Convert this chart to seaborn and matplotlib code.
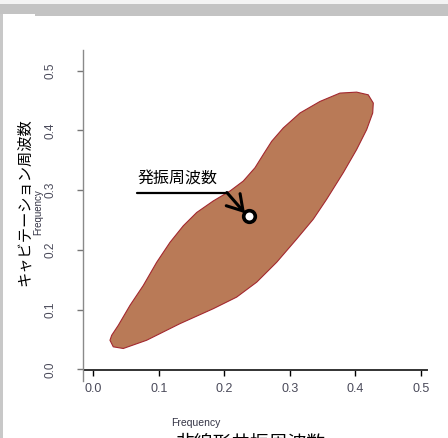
# frequency map: cavitation vs nonlinear resonance frequency
import matplotlib
matplotlib.use("Agg")
import matplotlib.pyplot as plt
from matplotlib.patches import Rectangle
import seaborn as sns

sns.set_theme(style="white")
plt.rcParams['font.family'] = ['Noto Sans CJK JP', 'DejaVu Sans']

# outline of the region (x = nonlinear resonance freq, y = cavitation freq)
region_x = [0.0255, 0.0305, 0.0458, 0.0815, 0.1324, 0.1832, 0.2189, 0.2495, 0.2800,
            0.3105, 0.3359, 0.3563, 0.3817, 0.4021, 0.4174, 0.4266, 0.4275, 0.4198,
            0.4021, 0.3766, 0.3461, 0.3156, 0.2901, 0.2724, 0.2595, 0.2469, 0.2290,
            0.2087, 0.1832, 0.1579, 0.1374, 0.1171, 0.0968, 0.0763, 0.0560, 0.0382,
            0.0281]
region_y = [0.0488, 0.0378, 0.0350, 0.0488, 0.0766, 0.1016, 0.1210, 0.1460, 0.1793,
            0.2181, 0.2514, 0.2847, 0.3292, 0.3680, 0.4013, 0.4291, 0.4457, 0.4595,
            0.4640, 0.4624, 0.4484, 0.4291, 0.4041, 0.3818, 0.3596, 0.3375, 0.3152,
            0.2985, 0.2819, 0.2626, 0.2403, 0.2126, 0.1793, 0.1404, 0.1071, 0.0738,
            0.0571]

# oscillation frequency point
osc_x = [0.238]
osc_y = [0.257]
osc_label = "発振周波数"

ticks = [0.0, 0.1, 0.2, 0.3, 0.4, 0.5]
tick_labels = ["0.0", "0.1", "0.2", "0.3", "0.4", "0.5"]

W, H = 448, 438
fig = plt.figure(figsize=(W / 100, H / 100), dpi=100)
fig.patch.set_facecolor("white")

ax = fig.add_axes([83 / W, (H - 370) / H, (427 - 83) / W, (370 - 50) / H])
ax.set_facecolor("white")

ax.fill(region_x, region_y, facecolor="#b97a57", edgecolor="#a3282f", lw=0.8)
sns.scatterplot(x=osc_x, y=osc_y, s=70, color="white", edgecolor="black",
                linewidth=2.6, zorder=5, ax=ax)

# label with underline and arrow
ax.text(0.068, 0.318, osc_label, fontsize=11.5, ha="left", va="center", color="black")
ax.plot([0.066, 0.204], [0.296, 0.296], color="black", lw=1.6)
ax.annotate("", xy=(0.2316, 0.2614), xytext=(0.204, 0.296),
            arrowprops=dict(arrowstyle="->,head_length=0.9,head_width=0.55",
                            color="black", lw=2.2, shrinkA=0, shrinkB=0))

ax.set_xlim(-0.0157, 0.5095)
ax.set_ylim(-0.001, 0.5345)
ax.set_xticks(ticks)
ax.set_xticklabels(tick_labels, family=["Liberation Sans", "DejaVu Sans"],
                   fontsize=9, color="#4a4a5a")
ax.set_yticks(ticks)
ax.set_yticklabels(tick_labels, family=["Liberation Sans", "DejaVu Sans"],
                   fontsize=8.5, color="#4a4a5a", rotation=90, va="center")

ax.tick_params(axis="x", direction="out", length=4.3, width=1, color="black",
               pad=5, bottom=True)
ax.tick_params(axis="y", direction="out", length=4.3, width=1, color="#777777",
               pad=15, left=True)

for side in ["top", "right"]:
    ax.spines[side].set_visible(False)
ax.spines["left"].set_color("#8a8a8a")
ax.spines["left"].set_linewidth(1.0)
ax.spines["left"].set_bounds(-0.02, 0.5345)
ax.spines["bottom"].set_color("#333333")
ax.spines["bottom"].set_linewidth(1.4)
ax.spines["bottom"].set_bounds(-0.0125, 0.5095)

# axis titles
fig.text(196 / W, 1 - 423 / H, "Frequency", fontsize=7.5, color="#333344",
         family=["Liberation Sans", "DejaVu Sans"], ha="center", va="center")
fig.text(38 / W, 1 - 212 / H, "Frequency", fontsize=7, color="#333344",
         family=["Liberation Sans", "DejaVu Sans"], ha="center", va="center",
         rotation=90)
fig.text(250 / W, 1 - 432 / H, "非線形共振周波数", fontsize=13.5, color="black",
         ha="center", va="top")
fig.text(24 / W, 1 - 202 / H, "キャビテーション周波数", fontsize=11, color="black",
         ha="center", va="center", rotation=90)

# window frame
fig.patches.append(Rectangle((0, 1 - 4 / H), 1, 4 / H, transform=fig.transFigure,
                             facecolor="#f3f3f3", edgecolor="none", zorder=0))
fig.patches.append(Rectangle((0, 1 - 14 / H), 1, 10 / H, transform=fig.transFigure,
                             facecolor="#c3c3c3", edgecolor="none", zorder=0))
fig.patches.append(Rectangle((35 / W, 1 - 16 / H), 1, 2 / H, transform=fig.transFigure,
                             facecolor="#c3c3c3", edgecolor="none", zorder=0))
fig.patches.append(Rectangle((0, 0), 2.5 / W, 1 - 14 / H, transform=fig.transFigure,
                             facecolor="#c8c8c8", edgecolor="none", zorder=0))

fig.savefig("out.png", dpi=100)
